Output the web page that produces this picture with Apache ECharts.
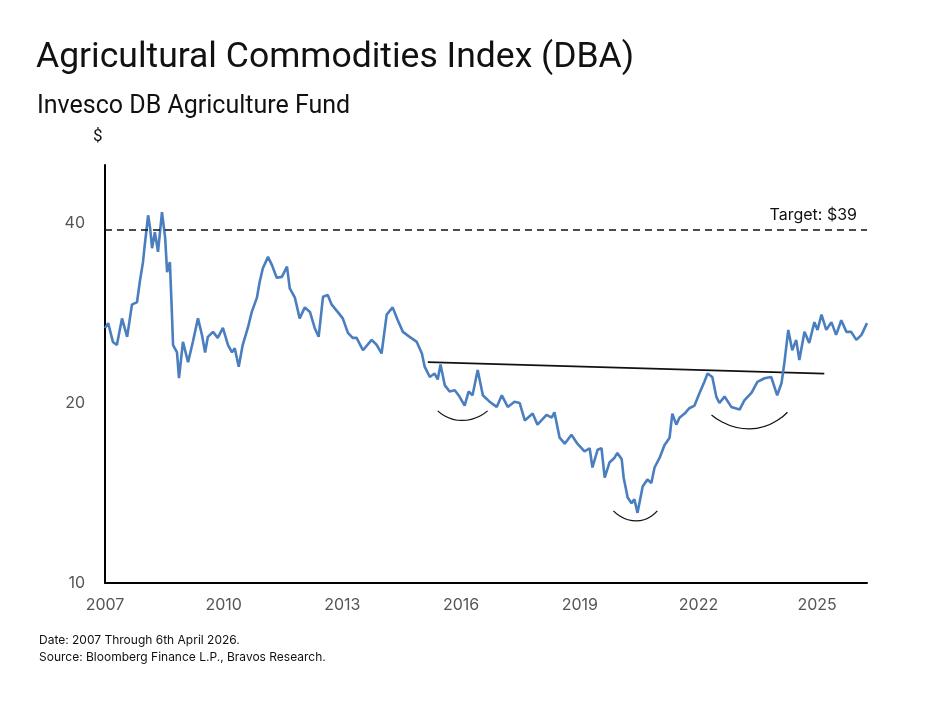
<!DOCTYPE html>
<html>
<head>
<meta charset="utf-8">
<script src="https://cdn.jsdelivr.net/npm/echarts@6/dist/echarts.min.js"></script>
<style>
  html, body { margin: 0; padding: 0; background: #fff; }
  #chart { width: 938px; height: 703px; }
</style>
</head>
<body>
<div id="chart"></div>
<script>
// DBA price (decimal year, $)
var years = [
  2007.00, 2007.08, 2007.20, 2007.30, 2007.43, 2007.56, 2007.68, 2007.81, 2007.88, 2007.96,
  2008.00, 2008.09, 2008.14, 2008.19, 2008.26, 2008.34, 2008.44, 2008.52, 2008.57, 2008.64,
  2008.69, 2008.72, 2008.82, 2008.87, 2008.97, 2009.10, 2009.22, 2009.35, 2009.45, 2009.53,
  2009.60, 2009.73, 2009.85, 2009.98, 2010.11, 2010.21, 2010.28, 2010.38, 2010.48, 2010.61,
  2010.71, 2010.84, 2010.91, 2010.99, 2011.12, 2011.22, 2011.34, 2011.47, 2011.60, 2011.67,
  2011.80, 2011.92, 2012.05, 2012.18, 2012.30, 2012.40, 2012.51, 2012.63, 2012.73, 2012.88,
  2013.01, 2013.14, 2013.26, 2013.36, 2013.52, 2013.74, 2013.87, 2013.99, 2014.12, 2014.27,
  2014.40, 2014.53, 2014.70, 2014.88, 2015.01, 2015.08, 2015.21, 2015.33, 2015.41, 2015.48,
  2015.59, 2015.71, 2015.84, 2015.96, 2016.09, 2016.19, 2016.29, 2016.42, 2016.55, 2016.72,
  2016.90, 2017.03, 2017.18, 2017.35, 2017.48, 2017.61, 2017.81, 2017.93, 2018.16, 2018.29,
  2018.36, 2018.49, 2018.62, 2018.79, 2018.94, 2019.12, 2019.25, 2019.32, 2019.45, 2019.55,
  2019.63, 2019.68, 2019.75, 2019.88, 2019.95, 2020.06, 2020.11, 2020.21, 2020.31, 2020.38,
  2020.46, 2020.59, 2020.71, 2020.81, 2020.89, 2021.02, 2021.14, 2021.27, 2021.34, 2021.44,
  2021.52, 2021.65, 2021.77, 2021.90, 2022.03, 2022.15, 2022.23, 2022.35, 2022.45, 2022.53,
  2022.66, 2022.83, 2023.04, 2023.16, 2023.34, 2023.49, 2023.67, 2023.84, 2023.99, 2024.10,
  2024.17, 2024.27, 2024.37, 2024.47, 2024.55, 2024.68, 2024.80, 2024.93, 2025.01, 2025.11,
  2025.23, 2025.36, 2025.48, 2025.61, 2025.74, 2025.86, 2025.99, 2026.12, 2026.26
];
var prices = [
  26.7, 27.2, 25.3, 25.0, 27.7, 25.8, 29.2, 29.5, 31.9, 34.4,
  36.5, 41.2, 39.2, 36.3, 38.6, 35.8, 41.7, 37.8, 33.1, 34.4,
  28.4, 25.0, 24.3, 22.0, 25.3, 23.4, 25.3, 27.7, 26.0, 24.3,
  25.8, 26.3, 25.7, 26.7, 25.0, 24.3, 24.7, 23.0, 25.0, 26.7,
  28.4, 30.0, 31.9, 33.6, 35.1, 34.0, 32.4, 32.5, 33.8, 31.1,
  30.0, 27.7, 28.9, 28.4, 26.7, 25.8, 30.1, 30.3, 29.2, 28.4,
  27.7, 26.2, 25.7, 25.7, 24.5, 25.5, 25.0, 24.2, 28.1, 28.9,
  27.5, 26.3, 25.8, 25.3, 24.2, 23.0, 22.1, 22.4, 21.9, 23.2,
  21.4, 20.9, 21.0, 20.5, 19.8, 20.9, 20.6, 22.7, 20.6, 20.1,
  19.7, 20.6, 19.7, 20.1, 20.0, 18.7, 19.2, 18.4, 19.1, 18.9,
  19.3, 17.5, 17.1, 17.7, 17.1, 16.6, 16.8, 15.6, 16.7, 16.8,
  15.0, 15.0, 15.9, 16.2, 16.5, 16.1, 15.0, 13.9, 13.6, 13.8,
  13.1, 14.5, 14.9, 14.7, 15.6, 16.2, 17.0, 17.5, 19.2, 18.4,
  18.9, 19.2, 19.6, 19.8, 20.8, 21.7, 22.4, 22.1, 20.5, 20.0,
  20.5, 19.7, 19.5, 20.2, 20.8, 21.7, 22.0, 22.1, 20.6, 21.6,
  23.3, 26.5, 24.5, 25.5, 23.6, 26.3, 25.2, 27.3, 26.5, 28.1,
  26.5, 27.3, 26.0, 27.5, 26.3, 26.3, 25.5, 26.0, 27.2
];

var xTicks = [2007, 2010, 2013, 2016, 2019, 2022, 2025];
var yTicks = [10, 20, 40];
var yMin = 10, yMax = 50;
var targetPrice = 39;

// neckline
var trendYears = [2015.16, 2025.18];
var trendValues = [23.4, 22.4];

// the three bowls under the lows
var arcYears = [
  [2015.41, 2016.02, 2016.67],
  [2019.85, 2020.43, 2020.96],
  [2022.33, 2023.29, 2024.25]
];
var arcValues = [
  [19.4, 18.7, 19.4],
  [13.2, 12.7, 13.2],
  [19.1, 18.1, 19.3]
];

var myChart = echarts.init(document.getElementById('chart'));

function pairs(xs, ys) {
  return xs.map(function (x, i) { return [x, ys[i]]; });
}

var arcSeries = arcYears.map(function (xs, k) {
  return {
    type: 'line',
    data: pairs(xs, arcValues[k]),
    smooth: 0.6,
    symbol: 'none',
    silent: true,
    lineStyle: { color: '#111', width: 1.2 },
    z: 3
  };
});

var option = {
  backgroundColor: '#fff',
  animation: false,
  textStyle: { fontFamily: 'Inter' },
  title: [
    {
      text: 'Agricultural Commodities Index (DBA)',
      left: 31, top: 35,
      textStyle: { fontFamily: 'Roboto', fontSize: 35.5, fontWeight: 'normal', color: '#111' }
    },
    {
      text: 'Invesco DB Agriculture Fund',
      left: 32, top: 89,
      textStyle: { fontFamily: 'Roboto', fontSize: 25, fontWeight: 'normal', color: '#111' }
    },
    {
      text: 'Date: 2007 Through 6th April 2026.\nSource: Bloomberg Finance L.P., Bravos Research.',
      left: 34, top: 627,
      textStyle: { fontFamily: 'Inter', fontSize: 12, fontWeight: 'normal', color: '#111', lineHeight: 17 }
    }
  ],
  graphic: [
    {
      type: 'text', left: 93, top: 128,
      style: { text: '$', font: '17px Roboto', fill: '#111' }
    }
  ],
  grid: { left: 105, right: 71, top: 165, bottom: 120 },
  xAxis: {
    type: 'value',
    min: 2007,
    max: 2026.26,
    interval: 3,
    axisLine: { lineStyle: { color: '#000', width: 2 } },
    axisTick: { show: false },
    splitLine: { show: false },
    axisLabel: {
      color: '#555', fontSize: 16, margin: 14,
      showMaxLabel: false,
      formatter: function (v) { return xTicks.indexOf(v) >= 0 ? String(v) : ''; }
    }
  },
  yAxis: [
    {
      // the data scale
      type: 'log',
      logBase: 2,
      min: yMin,
      max: yMax,
      position: 'left',
      axisLine: { show: true, lineStyle: { color: '#000', width: 2 } },
      axisTick: { show: false },
      splitLine: { show: false },
      axisLabel: { show: false }
    },
    {
      // labels only: the same scale in log2 units, so 10, 20, 40 land one doubling apart
      type: 'value',
      min: Math.log2(yMin),
      max: Math.log2(yMax),
      interval: 1,
      position: 'left',
      axisLine: { show: false },
      axisTick: { show: false },
      splitLine: { show: false },
      axisLabel: {
        color: '#555', fontSize: 16, margin: 20,
        showMaxLabel: false,
        formatter: function (v) {
          var r = Math.round(Math.pow(2, v));
          return yTicks.indexOf(r) >= 0 ? String(r) : '';
        }
      }
    }
  ],
  series: [
    {
      type: 'line',
      data: pairs(years, prices),
      symbol: 'none',
      lineStyle: { color: '#4a7ebf', width: 2.6 },
      z: 4,
      markLine: {
        silent: true,
        symbol: 'none',
        data: [{ yAxis: targetPrice }],
        lineStyle: { color: '#111', type: [7, 5], width: 1.6 },
        label: {
          show: true,
          position: 'insideEndTop',
          formatter: 'Target: $39',
          color: '#111',
          fontSize: 16,
          fontFamily: 'Inter',
          distance: [10, 6]
        }
      }
    },
    {
      type: 'line',
      data: pairs(trendYears, trendValues),
      symbol: 'none',
      silent: true,
      lineStyle: { color: '#111', width: 1.8 },
      z: 3
    }
  ].concat(arcSeries)
};

myChart.setOption(option);
</script>
</body>
</html>
